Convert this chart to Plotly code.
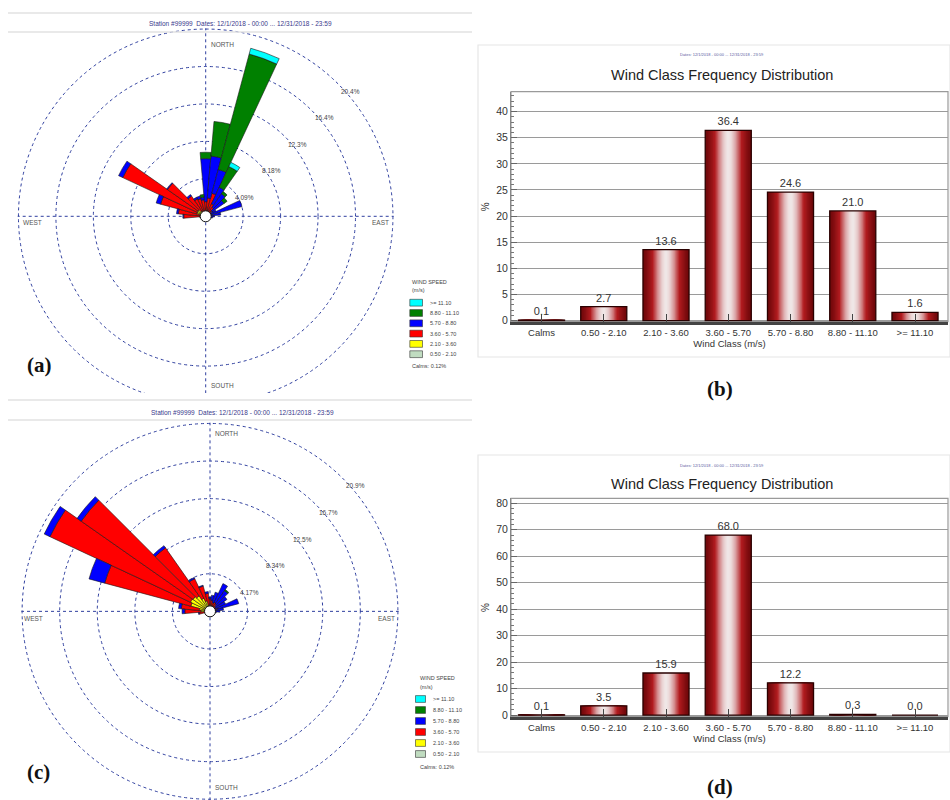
import math
import plotly.graph_objects as go

W, H = 950, 800

# ---------------- data ----------------
directions = list(range(0, 360, 10))
speed_labels = ["0.50 - 2.10", "2.10 - 3.60", "3.60 - 5.70", "5.70 - 8.80", "8.80 - 11.10", ">= 11.10"]
speed_colors = ["#c0dcc0", "#ffff00", "#ff0000", "#0000ff", "#008000", "#00ffff"]

# Rose (a): frequency (%) per direction (0..350 deg) for each speed class
rose_a_050_210 = [0.1, 0.1, 0.1, 0.1, 0.1, 0.05, 0.05, 0.05, 0.05, 0.05, 0.05, 0.05,
                  0.03, 0.03, 0.03, 0.03, 0.03, 0.03, 0.03, 0.03, 0.03, 0.03, 0.03, 0.03, 0.03, 0.03,
                  0.05, 0.1, 0.1, 0.1, 0.15, 0.1, 0.1, 0.1, 0.1, 0.1]
rose_a_210_360 = [0.3, 0.4, 0.5, 0.4, 0.3, 0.2, 0.2, 0.15, 0.1, 0.1, 0.1, 0.05,
                  0.05, 0.05, 0.05, 0.05, 0.05, 0.05, 0.05, 0.05, 0.05, 0.05, 0.05, 0.05, 0.05, 0.05,
                  0.2, 0.5, 0.6, 0.9, 0.9, 0.9, 0.6, 0.4, 0.3, 0.3]
rose_a_360_570 = [1.2, 1.5, 2.0, 1.0, 0.8, 0.6, 0.4, 0.3, 0.2, 0.2, 0.1, 0.1,
                  0.05, 0.05, 0.05, 0.05, 0.05, 0.05, 0.05, 0.05, 0.05, 0.05, 0.05, 0.05, 0.05, 0.05,
                  0.4, 1.8, 2.3, 4.1, 8.95, 4.1, 2.0, 1.6, 1.6, 1.4]
rose_a_570_880 = [4.7, 4.6, 2.7, 2.0, 1.8, 1.6, 0.6, 3.6, 1.3, 0.6, 0.5, 0.3,
                  0.03, 0.03, 0.03, 0.03, 0.03, 0.03, 0.03, 0.03, 0.03, 0.03, 0.03, 0.03, 0.03, 0.03,
                  0.0, 0.1, 0.2, 0.5, 0.5, 0.1, 0.2, 0.2, 0.3, 0.3]
rose_a_880_1110 = [0.7, 3.8, 13.05, 2.5, 0.3, 0.4, 0, 0, 0, 0, 0, 0,
                   0, 0, 0, 0, 0, 0, 0, 0, 0, 0, 0, 0, 0, 0,
                   0, 0, 0, 0, 0, 0, 0, 0, 0, 0.3]
rose_a_1110_up = [0, 0, 0.65, 0.5, 0, 0, 0, 0, 0, 0, 0, 0,
                  0, 0, 0, 0, 0, 0, 0, 0, 0, 0, 0, 0, 0, 0,
                  0, 0, 0, 0, 0, 0, 0, 0, 0, 0]

# Rose (c)
rose_c_050_210 = [0.1, 0.1, 0.1, 0.1, 0.1, 0.1, 0.1, 0.1, 0.1, 0.1, 0.1, 0.05,
                  0.03, 0.03, 0.03, 0.03, 0.03, 0.03, 0.03, 0.03, 0.03, 0.03, 0.03, 0.03, 0.03, 0.03,
                  0.1, 0.2, 0.2, 0.3, 0.3, 0.3, 0.3, 0.2, 0.2, 0.1]
rose_c_210_360 = [0.3, 0.3, 0.3, 0.3, 0.3, 0.2, 0.2, 0.3, 0.2, 0.2, 0.1, 0.05,
                  0.05, 0.05, 0.05, 0.05, 0.05, 0.05, 0.05, 0.05, 0.05, 0.05, 0.05, 0.05, 0.05, 0.05,
                  0.3, 0.8, 1.0, 1.9, 2.1, 2.0, 1.8, 1.4, 1.0, 0.6]
rose_c_360_570 = [1.0, 0.8, 0.6, 0.7, 0.6, 0.5, 0.4, 0.5, 0.3, 0.3, 0.2, 0.1,
                  0.05, 0.05, 0.05, 0.05, 0.05, 0.05, 0.05, 0.05, 0.05, 0.05, 0.05, 0.05, 0.05, 0.05,
                  0.8, 1.8, 2.0, 9.9, 17.2, 15.15, 6.5, 2.4, 1.7, 1.3]
rose_c_570_880 = [0.2, 0.6, 1.2, 2.3, 1.8, 1.5, 1.2, 2.4, 0.9, 0.5, 0.3, 0.1,
                  0.03, 0.03, 0.03, 0.03, 0.03, 0.03, 0.03, 0.03, 0.03, 0.03, 0.03, 0.03, 0.03, 0.03,
                  0.1, 0.3, 0.3, 1.8, 0.7, 0.55, 0.3, 0.15, 0.1, 0.2]
rose_c_880_1110 = [0, 0, 0, 0, 0.15, 0, 0, 0, 0, 0, 0, 0,
                   0, 0, 0, 0, 0, 0, 0, 0, 0, 0, 0, 0, 0, 0,
                   0, 0, 0, 0, 0, 0, 0, 0, 0, 0]
rose_c_1110_up = [0, 0, 0, 0, 0, 0, 0, 0, 0, 0, 0, 0,
                  0, 0, 0, 0, 0, 0, 0, 0, 0, 0, 0, 0, 0, 0,
                  0, 0, 0, 0, 0, 0, 0, 0, 0, 0]

ring_vals_a = [4.09, 8.18, 12.27, 16.36, 20.45]
ring_text_a = ["4.09%", "8.18%", "12.3%", "16.4%", "20.4%"]
ring_vals_c = [4.17, 8.34, 12.51, 16.68, 20.85]
ring_text_c = ["4.17%", "8.34%", "12.5%", "16.7%", "20.9%"]

wind_classes = ["Calms", "0.50 - 2.10", "2.10 - 3.60", "3.60 - 5.70", "5.70 - 8.80", "8.80 - 11.10", ">= 11.10"]
freq_b = [0.1, 2.7, 13.6, 36.4, 24.6, 21.0, 1.6]
freq_d = [0.1, 3.5, 15.9, 68.0, 12.2, 0.3, 0.0]

station_title = "Station #99999  Dates: 12/1/2018 - 00:00 ... 12/31/2018 - 23:59"
dates_title = "Dates: 12/1/2018 - 00:00 ... 12/31/2018 - 23:59"
chart_title = "Wind Class Frequency Distribution"

# ---------------- geometry (pixels) ----------------
ROSE_A = dict(cx=205.7, cy=216.3, R=188.0, n_off=16, s_off=19, w_off=3, e_off=3, we_dy=6,
              leg_x=410, leg_y=281.7, leg_step=10.3, leg_box_w=12.7, leg_lab_x=428,
              title_x=240, title_y=23.5, line_y=(13, 32))
ROSE_C = dict(cx=210.0, cy=611.35, R=188.65, n_off=11, s_off=13, w_off=1, e_off=2, we_dy=7,
              leg_x=418, leg_y=678, leg_step=11.0, leg_box_w=10, leg_lab_x=431,
              title_x=243, title_y=412.7, line_y=(400, 420))
BAR_B = dict(left=511, right=948, top=91.7, bottom=321.7, sub_y=55, title_y=75,
             frame=(478, 45, 950, 357))
BAR_D = dict(left=511, right=948, top=498.3, bottom=716.7, sub_y=465, title_y=483.5,
             frame=(478, 455, 950, 752))

NARROW = "Liberation Sans Narrow, Arial Narrow, Liberation Sans, Arial, sans-serif"
SMALL = "Liberation Sans, Arial, sans-serif"
SERIF = "Liberation Serif, Times New Roman, serif"
GRID_NAVY = "#2f3f9f"


def fx(p):
    return p / W


def fy(p):
    return 1 - p / H


fig = go.Figure()

# ---------------- wind roses ----------------
rose_a = [rose_a_050_210, rose_a_210_360, rose_a_360_570, rose_a_570_880, rose_a_880_1110, rose_a_1110_up]
rose_c = [rose_c_050_210, rose_c_210_360, rose_c_360_570, rose_c_570_880, rose_c_880_1110, rose_c_1110_up]

for subplot, rose in (("polar", rose_a), ("polar2", rose_c)):
    for k, vals in enumerate(rose):
        fig.add_trace(go.Barpolar(
            r=vals, theta=directions, width=10, subplot=subplot,
            marker=dict(color=speed_colors[k], line=dict(color="#1a1a1a", width=0.6)),
            name=speed_labels[k], showlegend=False))
    fig.add_trace(go.Scatterpolar(
        r=[0], theta=[0], mode="markers", subplot=subplot, showlegend=False,
        marker=dict(size=11, color="white", line=dict(color="#111", width=1))))

RANGE_PAD = 1.004


def polar_layout(g, tickvals):
    return dict(
        domain=dict(x=[fx(g["cx"] - g["R"]), fx(g["cx"] + g["R"])],
                    y=[max(0, fy(g["cy"] + g["R"])), fy(g["cy"] - g["R"])]),
        bgcolor="rgba(0,0,0,0)",
        angularaxis=dict(rotation=90, direction="clockwise", tickmode="array",
                         tickvals=[0, 90, 180, 270], showticklabels=False, ticks="",
                         showline=False, showgrid=True, gridcolor=GRID_NAVY,
                         griddash="dot", gridwidth=1),
        radialaxis=dict(range=[0, tickvals[-1] * RANGE_PAD], tickmode="array", tickvals=tickvals,
                        showticklabels=False, angle=45, showline=False,
                        ticks="", showgrid=True, gridcolor=GRID_NAVY, griddash="dot",
                        gridwidth=1),
    )


shapes = []
annotations = []


def ann(**kw):
    d = dict(xref="paper", yref="paper", showarrow=False, xanchor="center", yanchor="middle")
    d.update(kw)
    annotations.append(d)


for g, rvals, rtext in ((ROSE_A, ring_vals_a, ring_text_a), (ROSE_C, ring_vals_c, ring_text_c)):
    cx, cy, R = g["cx"], g["cy"], g["R"]
    scale = R / (rvals[-1] * RANGE_PAD)
    # outermost ring (dotted), same style as the radial grid
    ro = rvals[-1] * scale
    shapes.append(dict(type="circle", xref="paper", yref="paper", x0=fx(cx - ro), x1=fx(cx + ro),
                       y0=fy(cy + ro), y1=fy(cy - ro), line=dict(color=GRID_NAVY, width=1, dash="dot"),
                       layer="below"))

# white strip cropping the bottom of rose (a)
shapes.append(dict(type="rect", xref="paper", yref="paper", x0=0, x1=fx(476),
                   y0=fy(421), y1=fy(393), fillcolor="white", line=dict(width=0), layer="above"))

for g, rvals, rtext in ((ROSE_A, ring_vals_a, ring_text_a), (ROSE_C, ring_vals_c, ring_text_c)):
    cx, cy, R = g["cx"], g["cy"], g["R"]
    for ly in g["line_y"]:
        shapes.append(dict(type="line", xref="paper", yref="paper", x0=fx(8), x1=fx(472),
                           y0=fy(ly), y1=fy(ly), line=dict(color="#e2e2e2", width=1.5), layer="above"))
    ann(x=fx(g["title_x"]), y=fy(g["title_y"]), text=station_title,
        font=dict(family=SMALL, size=6.5, color="#3a3a8c"))
    comp = dict(family=SMALL, size=6.5, color="#555")
    ann(x=fx(cx + 3), y=fy(cy - R + g["n_off"]), text="NORTH", xanchor="left", font=comp)
    ann(x=fx(cx + 3), y=fy(cy + R - g["s_off"]), text="SOUTH", xanchor="left", font=comp)
    ann(x=fx(cx - R + g["w_off"]), y=fy(cy + g["we_dy"]), text="WEST", xanchor="left", font=comp)
    ann(x=fx(cx + R - g["e_off"]), y=fy(cy + g["we_dy"]), text="EAST", xanchor="right", font=comp)
    # ring labels at the 45 degree point of each ring
    scale = R / (rvals[-1] * RANGE_PAD)
    for v, t in zip(rvals, rtext):
        rr = v * scale * math.sqrt(0.5)
        ann(x=fx(cx + rr + 1), y=fy(cy - rr + 7.5), text=t, xanchor="left",
            font=dict(family=SMALL, size=6.5, color="#444"))
    # legend
    lf = dict(family=SMALL, size=5.5, color="#444")
    ann(x=fx(g["leg_x"]), y=fy(g["leg_y"]), text="WIND SPEED", xanchor="left", font=lf)
    ann(x=fx(g["leg_x"]), y=fy(g["leg_y"] + 8.8), text="(m/s)", xanchor="left", font=lf)
    for i, k in enumerate(range(5, -1, -1)):
        yc = g["leg_y"] + 21 + i * g["leg_step"]
        x0 = g["leg_lab_x"] - 5.5 - g["leg_box_w"]
        shapes.append(dict(type="rect", xref="paper", yref="paper", x0=fx(x0),
                           x1=fx(x0 + g["leg_box_w"]), y0=fy(yc + 3.4), y1=fy(yc - 3.4),
                           fillcolor=speed_colors[k], line=dict(color="#333", width=0.6), layer="above"))
        ann(x=fx(g["leg_lab_x"]), y=fy(yc), text=speed_labels[k], xanchor="left", font=lf)
    ann(x=fx(g["leg_x"]), y=fy(g["leg_y"] + 21 + 6 * g["leg_step"] + 1.5),
        text="Calms: 0.12%", xanchor="left", font=lf)

# ---------------- bar charts ----------------
N_LAYERS = 18
BAR_W = 0.74
stops = [(112, 8, 10), (178, 28, 32), (240, 232, 232)]


def shade(f):
    if f < 0.5:
        a, b, u = stops[0], stops[1], f / 0.5
    else:
        a, b, u = stops[1], stops[2], (f - 0.5) / 0.5
    return "rgb({},{},{})".format(*[int(round(p + u * (q - p))) for p, q in zip(a, b)])


for xa, ya, freq in (("x", "y", freq_b), ("x2", "y2", freq_d)):
    for j in range(N_LAYERS):
        t = 1 - j / N_LAYERS
        f = math.cos(t * math.pi / 2) ** 1.3
        fig.add_trace(go.Bar(x=wind_classes, y=freq, width=BAR_W * t,
                             marker=dict(color=shade(f), line=dict(width=0)),
                             xaxis=xa, yaxis=ya, showlegend=False, hoverinfo="skip"))
    fig.add_trace(go.Bar(x=wind_classes, y=freq, width=BAR_W, xaxis=xa, yaxis=ya, showlegend=False,
                         marker=dict(color="rgba(0,0,0,0)", line=dict(color="#2a0000", width=1.3)),
                         text=[f"{v:.1f}" for v in freq], texttemplate="%{text}", textposition="outside",
                         constraintext="none", cliponaxis=False,
                         textfont=dict(family=NARROW, size=11, color="#333")))


def bar_axes(g, yrange, dtick, minor_dtick, yaxis_name):
    xa = dict(domain=[fx(g["left"]), fx(g["right"])], anchor=yaxis_name, type="category",
              range=[-0.49, 6.53], showline=True, linecolor="#444", linewidth=2.5,
              ticks="inside", ticklen=8, tickcolor="#444", tickwidth=1,
              tickfont=dict(family=NARROW, size=9.5, color="#333"), showgrid=False,
              title=dict(text="Wind Class (m/s)", font=dict(family=NARROW, size=9.5, color="#333"), standoff=2),
              automargin=False)
    ya = dict(domain=[fy(g["bottom"]), fy(g["top"])], range=yrange, tick0=0, dtick=dtick,
              showgrid=True, gridcolor="#9a9a9a", gridwidth=1, zeroline=False,
              showline=True, linecolor="#888", linewidth=1, ticks="inside", ticklen=6,
              tickcolor="#666", minor=dict(dtick=minor_dtick, tick0=0, ticks="inside", ticklen=3,
                                           tickcolor="#777", showgrid=False),
              tickfont=dict(family=NARROW, size=10.5, color="#333"),
              title=dict(text="%", font=dict(family=NARROW, size=10, color="#333"), standoff=4),
              automargin=False)
    return xa, ya


xb, yb = bar_axes(BAR_B, [-0.2, 43.8], 5, 1, "y")
xd, yd = bar_axes(BAR_D, [-0.6, 81.9], 10, 2, "y2")

for g, xr, yr in ((BAR_B, "x", "y"), (BAR_D, "x2", "y2")):
    fx0, fy0, fx1, fy1 = g["frame"]
    shapes.append(dict(type="rect", xref="paper", yref="paper", x0=fx(fx0), x1=fx(fx1),
                       y0=fy(fy1), y1=fy(fy0), line=dict(color="#e6e6e6", width=1.2), layer="below"))
    shapes.append(dict(type="rect", xref=f"{xr} domain", yref=f"{yr} domain", x0=0, x1=1, y0=0, y1=1,
                       line=dict(color="#9a9a9a", width=1.2), layer="below"))
    cx = (g["left"] + g["right"]) / 2 - 8
    ann(x=fx(cx), y=fy(g["sub_y"]), text=dates_title, font=dict(family=SMALL, size=4, color="#5a5aa0"))
    ann(x=fx(cx), y=fy(g["title_y"]), text=chart_title, font=dict(family=NARROW, size=14.5, color="#222"))

# panel letters
for lab, px, py in (("(a)", 39.5, 365), ("(b)", 720, 389), ("(c)", 38, 772), ("(d)", 720, 786.7)):
    ann(x=fx(px), y=fy(py), text=f"<b>{lab}</b>", font=dict(family=SERIF, size=21, color="#111"))

fig.update_layout(
    width=W, height=H, margin=dict(l=0, r=0, t=0, b=0),
    paper_bgcolor="white", plot_bgcolor="white", showlegend=False,
    barmode="overlay",
    polar=polar_layout(ROSE_A, ring_vals_a),
    polar2=polar_layout(ROSE_C, ring_vals_c),
    xaxis=xb, yaxis=yb, xaxis2=xd, yaxis2=yd,
    shapes=shapes, annotations=annotations,
)

fig.write_html("out.html")
